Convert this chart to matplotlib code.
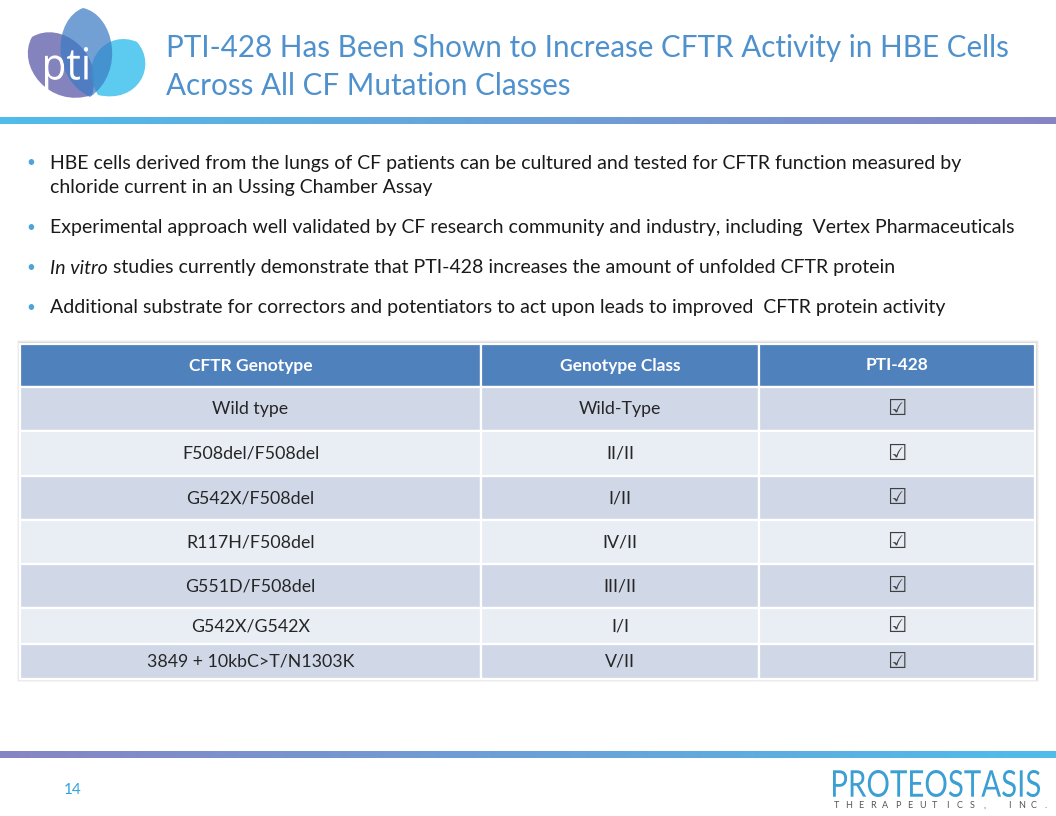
import numpy as np
import matplotlib
matplotlib.use("Agg")
from matplotlib import pyplot as plt
from matplotlib.patches import Rectangle, PathPatch
from matplotlib.path import Path
from matplotlib.textpath import TextPath
from matplotlib.font_manager import FontProperties
from matplotlib.transforms import Affine2D

plt.rcParams['font.family'] = ['Lato', 'DejaVu Sans']

title_lines = ["PTI-428 Has Been Shown to Increase CFTR Activity in HBE Cells",
               "Across All CF Mutation Classes"]
# each bullet: (italic lead-in, rest of first line, continuation lines)
bullets = [
    ("", "HBE cells derived from the lungs of CF patients can be cultured and tested for CFTR function measured by",
     ["chloride current in an Ussing Chamber Assay"]),
    ("", "Experimental approach well validated by CF research community and industry, including  Vertex Pharmaceuticals", []),
    ("In vitro", " studies currently demonstrate that PTI-428 increases the amount of unfolded CFTR protein", []),
    ("", "Additional substrate for correctors and potentiators to act upon leads to improved  CFTR protein activity", []),
]
headers = ["CFTR Genotype", "Genotype Class", "PTI-428"]
genotypes = ["Wild type", "F508del/F508del", "G542X/F508del", "R117H/F508del",
             "G551D/F508del", "G542X/G542X", "3849 + 10kbC>T/N1303K"]
classes = ["Wild-Type", "II/II", "I/II", "IV/II", "III/II", "I/I", "V/II"]
pti428 = ["\u2611"] * 7
page_no = "14"

# layout (pixels)
col_edges = [20, 481, 759, 1035]
row_heights = [43, 44, 45, 44, 44, 44, 36, 35]
table_top = 344

fig = plt.figure(figsize=(10.56, 8.16), dpi=100)
ax = fig.add_axes([0, 0, 1, 1])
ax.set_xlim(0, 1056)
ax.set_ylim(816, 0)
ax.axis('off')


def grad_bar(y0, y1, c_left, c_right):
    t = np.linspace(0, 1, 256)[None, :, None]
    img = (1 - t) * np.array(c_left)[None, None, :] + t * np.array(c_right)[None, None, :]
    ax.imshow(img, extent=(0, 1056, y1, y0), aspect='auto', zorder=1)


cyan = (0.31, 0.74, 0.92)
purple = (0.53, 0.52, 0.77)
grad_bar(117, 124, cyan, purple)
grad_bar(751.5, 758.5, purple, cyan)


def fit_text(s, x0, x1, y_top, y_bot, color, family, weight='normal'):
    tp = TextPath((0, 0), s, size=40, prop=FontProperties(family=family, weight=weight))
    bb = tp.get_extents()
    tr = Affine2D().translate(-bb.x0, -bb.y1).scale((x1 - x0) / bb.width,
                                                    -(y_bot - y_top) / bb.height).translate(x0, y_top)
    ax.add_patch(PathPatch(tr.transform_path(tp), fc=color, ec='none', zorder=6))


# logo petals
def petal(base, tip, w, color, alpha):
    base = np.array(base, float)
    tip = np.array(tip, float)
    d = tip - base
    n = np.array([-d[1], d[0]]) / np.hypot(*d)
    verts = [base,
             base + 0.25 * d + n * w, tip - 0.1 * d + n * w * 0.8, tip,
             tip - 0.1 * d - n * w * 0.8, base + 0.25 * d - n * w, base]
    codes = [Path.MOVETO, Path.CURVE4, Path.CURVE4, Path.CURVE4,
             Path.CURVE4, Path.CURVE4, Path.CURVE4]
    ax.add_patch(PathPatch(Path(verts, codes), fc=color, ec='none', alpha=alpha, zorder=2))


petal((92, 95), (32, 37), 40, '#7f7cba', 0.95)
petal((98, 95), (137, 42), 38, '#40c2ee', 0.85)
petal((90, 97), (83, 8), 38, '#3c7cc4', 0.72)
fit_text("pti", 45, 88, 47, 90, 'white', 'Open Sans')

# title
for i, line in enumerate(title_lines):
    ax.text(166, 48 + i * 38, line, color='#4f91cd', fontsize=21.3, ha='left', va='center')

# bullets
y = 163
for lead, first, more in bullets:
    ax.text(26, y, "\u2022", color='#4fa3d9', fontsize=11, ha='left', va='center')
    if lead:
        t1 = ax.text(50, y, lead, color='#1a1a1a', fontsize=14, style='italic', ha='left', va='center')
        ax.annotate(first, xy=(1, 0.5), xycoords=t1, color='#1a1a1a', fontsize=14,
                    ha='left', va='center')
    else:
        ax.text(50, y, first, color='#1a1a1a', fontsize=14, ha='left', va='center')
    for line in more:
        y += 25
        ax.text(50, y, line, color='#1a1a1a', fontsize=14, ha='left', va='center')
    y += 40

# table shadow
xs, xe = col_edges[0], col_edges[-1]
tbottom = table_top + sum(row_heights)
for k, a in zip([4, 3, 2, 1], [0.05, 0.08, 0.12, 0.18]):
    ax.add_patch(Rectangle((xs - k + 1, table_top - k), xe - xs + 2 * k - 1, tbottom - table_top + 2 * k - 1,
                           fc='#555555', ec='none', alpha=a, zorder=3))

# table cells
row_top = table_top
rows = [headers] + [list(r) for r in zip(genotypes, classes, pti428)]
for r, (cells, h) in enumerate(zip(rows, row_heights)):
    if r == 0:
        fc = '#4f81bd'
    elif r % 2 == 1:
        fc = '#d0d8e8'
    else:
        fc = '#e9edf4'
    for c, txt in enumerate(cells):
        x0, x1 = col_edges[c], col_edges[c + 1]
        ax.add_patch(Rectangle((x0, row_top), x1 - x0, h, fc=fc, ec='white', lw=1.6, zorder=4))
        cx, cy = (x0 + x1) / 2, row_top + h / 2
        if r == 0:
            ax.text(cx, cy, txt, color='white', fontsize=12.5, fontweight='bold',
                    ha='center', va='center', zorder=5)
        elif c == 2:
            ax.text(cx, cy, txt, color='#404040', fontsize=15.5, ha='center', va='center',
                    family=['DejaVu Sans'], zorder=5)
        else:
            ax.text(cx, cy, txt, color='#262626', fontsize=12.8, ha='center', va='center', zorder=5)
    row_top += h

# page number
ax.text(64, 790, page_no, color='#2fa4dc', fontsize=11, ha='left', va='center')

# company mark
fit_text("PROTEOSTASIS", 833, 1040, 770, 797, '#3b9fd4', 'Lato')
tag = "THERAPEUTICS, INC."
for ch, xc in zip(tag, np.linspace(836, 1046, len(tag))):
    ax.text(xc, 806, ch, color='#555555', fontsize=6.5, ha='center', va='center')

fig.savefig("out.png", dpi=100)
